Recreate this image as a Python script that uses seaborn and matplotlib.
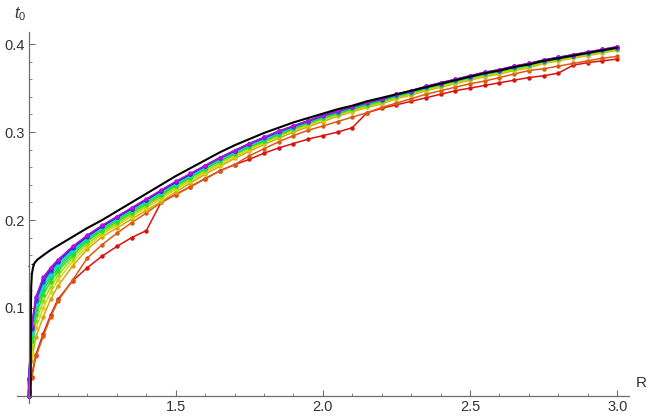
import colorsys
import matplotlib
matplotlib.use("Agg")
import matplotlib.pyplot as plt
import numpy as np
import pandas as pd
import seaborn as sns
from matplotlib.ticker import FixedLocator

# ---------------- data ----------------
R = [1.0, 1.001, 1.01, 1.025, 1.05, 1.075, 1.1, 1.15, 1.2, 1.25, 1.3, 1.35, 1.4, 1.45,
     1.5, 1.55, 1.6, 1.65, 1.7, 1.75, 1.8, 1.85, 1.9, 1.95, 2.0, 2.05, 2.1, 2.15, 2.2,
     2.25, 2.3, 2.35, 2.4, 2.45, 2.5, 2.55, 2.6, 2.65, 2.7, 2.75, 2.8, 2.85, 2.9, 2.95, 3.0]

t_red = [0.000, 0.005, 0.022, 0.047, 0.071, 0.092, 0.110, 0.131, 0.146, 0.159, 0.170, 0.180,
         0.188, 0.220, 0.229, 0.238, 0.247, 0.256, 0.263, 0.269, 0.276, 0.282, 0.287, 0.292,
         0.296, 0.300, 0.305, 0.322, 0.327, 0.331, 0.335, 0.339, 0.343, 0.347, 0.350, 0.353,
         0.356, 0.359, 0.362, 0.364, 0.367, 0.376, 0.379, 0.381, 0.383]
t_orangered = [0.000, 0.004, 0.020, 0.045, 0.068, 0.090, 0.108, 0.132, 0.157, 0.172, 0.185,
               0.197, 0.208, 0.220, 0.229, 0.238, 0.247, 0.256, 0.263, 0.273, 0.281, 0.289,
               0.296, 0.302, 0.307, 0.312, 0.317, 0.322, 0.328, 0.333, 0.338, 0.343, 0.347,
               0.351, 0.355, 0.358, 0.362, 0.366, 0.370, 0.372, 0.375, 0.378, 0.381, 0.384, 0.386]
t_gold = [0.000, 0.008, 0.040, 0.067, 0.090, 0.110, 0.125, 0.148, 0.167, 0.181, 0.191, 0.201,
          0.211, 0.221, 0.232, 0.242, 0.252, 0.261, 0.270, 0.278, 0.286, 0.293, 0.300, 0.306,
          0.312, 0.318, 0.323, 0.328, 0.332, 0.338, 0.342, 0.347, 0.351, 0.355, 0.359, 0.363,
          0.366, 0.370, 0.373, 0.378, 0.381, 0.384, 0.387, 0.390, 0.393]
t_yellow = [0.000, 0.011, 0.049, 0.077, 0.100, 0.118, 0.132, 0.153, 0.170, 0.184, 0.194, 0.204,
            0.214, 0.224, 0.235, 0.244, 0.254, 0.263, 0.272, 0.280, 0.288, 0.295, 0.302, 0.308,
            0.314, 0.319, 0.324, 0.329, 0.333, 0.339, 0.343, 0.348, 0.352, 0.356, 0.360, 0.364,
            0.367, 0.371, 0.374, 0.379, 0.382, 0.385, 0.388, 0.391, 0.394]
t_yellowgreen = [0.000, 0.013, 0.056, 0.085, 0.108, 0.124, 0.137, 0.157, 0.173, 0.186, 0.196,
                 0.206, 0.216, 0.226, 0.237, 0.246, 0.256, 0.265, 0.274, 0.282, 0.289, 0.296,
                 0.303, 0.309, 0.315, 0.320, 0.325, 0.330, 0.334, 0.340, 0.344, 0.349, 0.353,
                 0.357, 0.361, 0.365, 0.368, 0.372, 0.375, 0.380, 0.383, 0.386, 0.389, 0.392, 0.395]
t_green = [0.000, 0.015, 0.062, 0.092, 0.115, 0.130, 0.142, 0.160, 0.176, 0.188, 0.198, 0.208,
           0.218, 0.228, 0.239, 0.248, 0.258, 0.267, 0.275, 0.283, 0.290, 0.297, 0.304, 0.310,
           0.316, 0.321, 0.326, 0.331, 0.335, 0.341, 0.345, 0.350, 0.354, 0.358, 0.362, 0.366,
           0.369, 0.373, 0.376, 0.380, 0.383, 0.386, 0.389, 0.392, 0.395]
t_green2 = [0.000, 0.016, 0.067, 0.098, 0.120, 0.134, 0.145, 0.163, 0.178, 0.190, 0.200, 0.210,
            0.220, 0.230, 0.240, 0.249, 0.259, 0.268, 0.276, 0.284, 0.291, 0.298, 0.305, 0.311,
            0.317, 0.322, 0.327, 0.332, 0.336, 0.341, 0.345, 0.350, 0.354, 0.358, 0.362, 0.366,
            0.369, 0.373, 0.376, 0.381, 0.384, 0.387, 0.390, 0.393, 0.396]
t_cyangreen = [0.000, 0.017, 0.070, 0.102, 0.124, 0.137, 0.148, 0.165, 0.179, 0.191, 0.201,
               0.211, 0.221, 0.231, 0.241, 0.250, 0.260, 0.269, 0.277, 0.285, 0.292, 0.299,
               0.305, 0.311, 0.317, 0.323, 0.328, 0.333, 0.337, 0.342, 0.346, 0.351, 0.355,
               0.359, 0.363, 0.367, 0.370, 0.374, 0.377, 0.381, 0.384, 0.387, 0.390, 0.393, 0.396]
t_cyan = [0.000, 0.018, 0.073, 0.105, 0.127, 0.140, 0.150, 0.166, 0.180, 0.192, 0.202, 0.212,
          0.222, 0.232, 0.242, 0.251, 0.260, 0.269, 0.277, 0.285, 0.292, 0.299, 0.306, 0.312,
          0.318, 0.323, 0.328, 0.333, 0.337, 0.342, 0.346, 0.351, 0.355, 0.359, 0.363, 0.367,
          0.370, 0.374, 0.377, 0.381, 0.384, 0.387, 0.390, 0.393, 0.396]
t_blue = [0.000, 0.019, 0.076, 0.108, 0.130, 0.142, 0.152, 0.168, 0.181, 0.193, 0.203, 0.213,
          0.223, 0.233, 0.243, 0.252, 0.261, 0.270, 0.278, 0.286, 0.293, 0.300, 0.306, 0.312,
          0.318, 0.323, 0.328, 0.333, 0.337, 0.342, 0.346, 0.351, 0.355, 0.359, 0.363, 0.367,
          0.370, 0.374, 0.377, 0.381, 0.384, 0.387, 0.390, 0.393, 0.396]
t_violet = [0.000, 0.019, 0.078, 0.111, 0.133, 0.144, 0.154, 0.169, 0.182, 0.193, 0.203, 0.213,
            0.223, 0.233, 0.243, 0.252, 0.262, 0.271, 0.279, 0.287, 0.294, 0.301, 0.307, 0.313,
            0.319, 0.324, 0.329, 0.334, 0.338, 0.343, 0.347, 0.352, 0.356, 0.360, 0.364, 0.368,
            0.371, 0.375, 0.378, 0.382, 0.385, 0.388, 0.391, 0.394, 0.397]
t_magenta = [0.000, 0.020, 0.080, 0.113, 0.135, 0.146, 0.155, 0.170, 0.183, 0.194, 0.204, 0.214,
             0.224, 0.234, 0.244, 0.253, 0.262, 0.271, 0.279, 0.287, 0.294, 0.301, 0.307, 0.313,
             0.319, 0.324, 0.329, 0.334, 0.338, 0.343, 0.347, 0.352, 0.356, 0.360, 0.364, 0.368,
             0.371, 0.375, 0.378, 0.382, 0.385, 0.388, 0.391, 0.394, 0.397]

R_black = [1.007, 1.0075, 1.008, 1.009, 1.011, 1.015, 1.02, 1.03, 1.05, 1.075, 1.1,
           1.15, 1.2, 1.25, 1.3, 1.35, 1.4, 1.45, 1.5, 1.55, 1.6, 1.65, 1.7, 1.75, 1.8, 1.85,
           1.9, 1.95, 2.0, 2.05, 2.1, 2.15, 2.2, 2.25, 2.3, 2.35, 2.4, 2.45, 2.5, 2.55, 2.6,
           2.65, 2.7, 2.75, 2.8, 2.85, 2.9, 2.95, 3.0]
t_black = [0.000, 0.060, 0.100, 0.125, 0.138, 0.146, 0.151, 0.155, 0.160, 0.166, 0.171,
           0.181, 0.191, 0.200, 0.210, 0.220, 0.230, 0.240, 0.250, 0.259, 0.268, 0.277, 0.285,
           0.292, 0.299, 0.305, 0.311, 0.316, 0.321, 0.326, 0.330, 0.335, 0.339, 0.343, 0.347,
           0.351, 0.355, 0.359, 0.363, 0.367, 0.370, 0.374, 0.377, 0.381, 0.384, 0.387, 0.390,
           0.393, 0.396]
R_dotted = [1.0, 1.015, 1.03]
t_dotted = [0.147, 0.150, 0.155]

series_names = ["red", "orangered", "gold", "yellow", "yellowgreen", "green", "green2",
                "cyangreen", "cyan", "blue", "violet", "magenta"]
series_values = [t_red, t_orangered, t_gold, t_yellow, t_yellowgreen, t_green, t_green2,
                 t_cyangreen, t_cyan, t_blue, t_violet, t_magenta]
hues = [0.0, 0.06, 0.12, 0.16, 0.22, 0.30, 0.37, 0.44, 0.50, 0.60, 0.70, 0.80]

x_major = [1.5, 2.0, 2.5, 3.0]
x_major_labels = ["1.5", "2.0", "2.5", "3.0"]
x_minor = [1.1, 1.2, 1.3, 1.4, 1.6, 1.7, 1.8, 1.9, 2.1, 2.2, 2.3, 2.4, 2.6, 2.7, 2.8, 2.9]
y_major = [0.1, 0.2, 0.3, 0.4]
y_major_labels = ["0.1", "0.2", "0.3", "0.4"]
y_minor = [0.02, 0.04, 0.06, 0.08, 0.12, 0.14, 0.16, 0.18, 0.22, 0.24, 0.26, 0.28,
           0.32, 0.34, 0.36, 0.38]

# ---------------- style ----------------
sns.set_style("white")
plt.rcParams["font.family"] = ["Liberation Sans", "DejaVu Sans"]
plt.rcParams["mathtext.fontset"] = "custom"
plt.rcParams["mathtext.rm"] = "Liberation Sans"
plt.rcParams["mathtext.it"] = "Liberation Sans:italic"

colors = [colorsys.hsv_to_rgb(h, 0.92, 0.86) for h in hues]

rows = []
for name, vals in zip(series_names, series_values):
    for r, t in zip(R, vals):
        rows.append((name, r, t))
df = pd.DataFrame(rows, columns=["series", "R", "t0"])

fig = plt.figure(figsize=(6.54, 4.18), dpi=100)
ax = fig.add_axes([0.0257, 0.0359, 0.936, 0.888])

sns.lineplot(data=df, x="R", y="t0", hue="series", hue_order=series_names,
             palette=colors, marker="o", markersize=3.2, markeredgewidth=0,
             linewidth=1.1, estimator=None, sort=False, legend=False, ax=ax)
sns.lineplot(x=R_black, y=t_black, color="black", linewidth=1.5, estimator=None,
             sort=False, ax=ax)
sns.lineplot(x=R_dotted, y=t_dotted, color="black", linewidth=1.0, linestyle=":",
             estimator=None, sort=False, ax=ax)

axc = "#6e6e6e"
for s in ["top", "right"]:
    ax.spines[s].set_visible(False)
ax.spines["left"].set_position(("data", 1.0))
ax.spines["bottom"].set_position(("data", 0.0))
for s in ["left", "bottom"]:
    ax.spines[s].set_color(axc)
    ax.spines[s].set_linewidth(0.9)

ax.set_xlim(0.96, 3.04)
ax.set_ylim(-0.008, 0.414)
ax.xaxis.set_major_locator(FixedLocator(x_major))
ax.xaxis.set_minor_locator(FixedLocator(x_minor))
ax.yaxis.set_major_locator(FixedLocator(y_major))
ax.yaxis.set_minor_locator(FixedLocator(y_minor))
ax.set_xticklabels(x_major_labels)
ax.set_yticklabels(y_major_labels)
ax.tick_params(which="major", direction="in", length=4.5, width=0.8, color=axc,
               labelsize=10.5, labelcolor="#333333", pad=3)
ax.tick_params(which="minor", direction="in", length=2.5, width=0.6, color=axc)
ax.tick_params(axis="x", which="both", bottom=True)
ax.tick_params(axis="y", which="both", left=True)
ax.set_xlabel("")
ax.set_ylabel("")
ax.grid(False)

fig.text(20 / 654, 1 - 14 / 418, "$t_0$", fontsize=11.5, color="#333333",
         ha="center", va="center")
fig.text(641 / 654, 1 - 383 / 418, "R", fontsize=11, color="#333333",
         ha="center", va="center")

fig.savefig("out.png", dpi=100)
